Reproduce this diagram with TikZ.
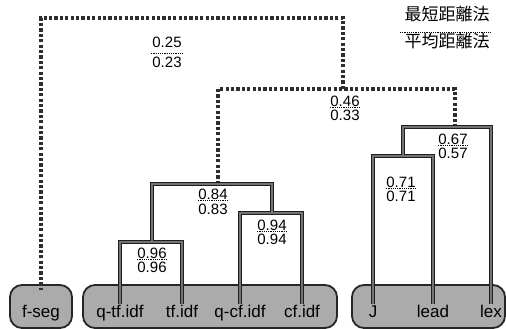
\documentclass[tikz,border=0pt]{standalone}
\usepackage{fontspec}
\setmainfont{Liberation Sans}
\newfontfamily\cjk{Noto Sans CJK JP}
\begin{document}
\begin{tikzpicture}[x=1pt,y=-1pt,
  solidlink/.style={line width=1.6pt, draw=black!55, line join=miter, line cap=butt,
    preaction={draw=black!88, line width=4.4pt, line join=miter, line cap=butt}},
  dotlink/.style={line width=3.4pt, draw=black!82, dash pattern=on 3.2pt off 2.2pt, line join=miter},
  num/.style={font=\fontsize{15}{17}\selectfont, inner sep=0pt},
  leaf/.style={font=\fontsize{17}{19}\selectfont, inner sep=1pt, text height=12.5pt, text depth=3.5pt},
  leafbox/.style={draw=black!85, line width=1.8pt, fill=black!33, rounded corners=12pt,
    minimum height=43pt, inner sep=0pt},
  underl/.style={line width=0.7pt, dash pattern=on 1.2pt off 1pt},
  ja/.style={font=\cjk\fontsize{17}{19}\selectfont, inner sep=0pt},
]
\useasboundingbox (0,0) rectangle (506,329);
\fill[white] (0,0) rectangle (506,329);

% boxes
\node[leafbox, minimum width=62pt]  (fbox) at (41,306.5) {};
\node[leafbox, minimum width=254pt] (tbox) at (210,306.5) {};
\node[leafbox, minimum width=153pt] (jbox) at (428.5,306.5) {};

% leaves
\node[leaf] (fseg) at (41,313) {f-seg};
\node[leaf] (qtf)  at (120,313) {q-tf.idf};
\node[leaf] (tf)   at (182,313) {tf.idf};
\node[leaf] (qcf)  at (240,313) {q-cf.idf};
\node[leaf] (cf)   at (302,313) {cf.idf};
\node[leaf] (J)    at (373,313) {J};
\node[leaf] (lead) at (433,313) {lead};
\node[leaf] (lex)  at (491,313) {lex};

% merge points
\coordinate (m96) at (152,242);
\coordinate (m94) at (272,213);
\coordinate (m84) at (218,184);
\coordinate (m71) at (403,156);
\coordinate (m67) at (455,127);
\coordinate (m46) at (343,89);
\coordinate (m25) at (190,18);

% dotted links
\draw[dotlink] (m84) |- (m46) -| (m67);
\draw[dotlink] (m46) |- (m25) -| ([yshift=-6pt]fbox.north);

% solid links
\draw[solidlink]
  (qtf.north) |- (m96) -| (tf.north)
  (qcf.north) |- (m94) -| (cf.north)
  (m96) |- (m84) -| (m94)
  (J.north) |- (m71) -| (lead.north)
  (m71) |- (m67) -| (lex.north);

% labels
\node[num] (a25) at (167,42) {0.25};
\node[num] (b25) at (167,62) {0.23};
\draw[underl] ([xshift=-1pt,yshift=-6pt]a25.base west) -- ([xshift=1pt,yshift=-6pt]a25.base east);

\node[num] (a46) at (345,101) {0.46};
\node[num] (b46) at (345,115) {0.33};
\draw[underl] ([yshift=-1pt]a46.base west) -- ([yshift=-1pt]a46.base east);

\node[num] (a67) at (453,139) {0.67};
\node[num] (b67) at (453,153) {0.57};
\draw[underl] ([yshift=-1pt]a67.base west) -- ([yshift=-1pt]a67.base east);

\node[num] (a71) at (401,182) {0.71};
\node[num] (b71) at (401,196) {0.71};
\draw[underl] ([yshift=-1pt]a71.base west) -- ([yshift=-1pt]a71.base east);

\node[num] (a84) at (213,194) {0.84};
\node[num] (b84) at (213,209) {0.83};
\draw[underl] ([yshift=-1pt]a84.base west) -- ([yshift=-1pt]a84.base east);

\node[num] (a94) at (272,225) {0.94};
\node[num] (b94) at (272,239) {0.94};
\draw[underl] ([yshift=-1pt]a94.base west) -- ([yshift=-1pt]a94.base east);

\node[num] (a96) at (152,253) {0.96};
\node[num] (b96) at (152,267) {0.96};
\draw[underl] ([yshift=-1pt]a96.base west) -- ([yshift=-1pt]a96.base east);

% legend
\node[ja] (ja1) at (447,14) {最短距離法};
\node[ja] (ja2) at (447,41) {平均距離法};
\draw[underl] (400,32) -- (492,32);
\end{tikzpicture}
\end{document}
